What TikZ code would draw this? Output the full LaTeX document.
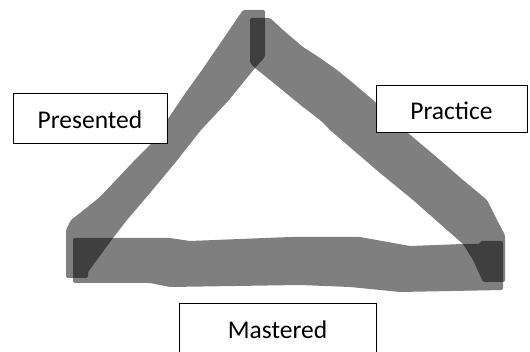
\documentclass[tikz,border=0pt]{standalone}
\usepackage{fontspec}
\setmainfont{Carlito}
\begin{document}
\begin{tikzpicture}[x=1pt,y=-1pt,
  marker/.style={fill=black, fill opacity=0.5, draw=none, rounded corners=1.5pt},
  label box/.style={draw=black, line width=0.8pt, fill=white, inner sep=0pt,
    font=\fontsize{25.5}{28}\selectfont, text height=21.4pt, text depth=0pt}]
\useasboundingbox (0,0) rectangle (530,352);
% left stroke
\path[marker] (243,10) -- (265,10) -- (265,57) -- (255,68) -- (229,100) -- (201,130)
  -- (175,163) -- (150,193) -- (127,220) -- (113,238) -- (88,272) -- (88,278)
  -- (66,278) -- (66,230) -- (71,220) -- (80,213) -- (100,197) -- (132,163)
  -- (152,143) -- (184,95) -- (202,70) -- cycle;
% right stroke
\path[marker] (250,18) -- (270,18) -- (283,30) -- (303,47) -- (320,58) -- (337,70)
  -- (353,83) -- (373,100) -- (408,133) -- (440,160) -- (463,180) -- (487,200)
  -- (497,220) -- (505,235) -- (505,282) -- (483,282) -- (473,260) -- (463,244)
  -- (447,230) -- (413,200) -- (380,173) -- (330,130) -- (320,120) -- (303,107)
  -- (270,80) -- (255,68) -- (250,63) -- cycle;
% bottom stroke
\path[marker] (73,238) -- (170,238) -- (190,241) -- (290,237) -- (360,237)
  -- (410,246) -- (463,244) -- (480,244) -- (480,241) -- (503,241) -- (503,290)
  -- (400,292) -- (350,287) -- (300,285) -- (170,287) -- (150,283) -- (73,283) -- cycle;
% labels
\node[label box, minimum width=154pt, minimum height=50pt] (presented) at (90,118) {Presented};
\node[label box, minimum width=151pt, minimum height=47pt] (practice) at (451.5,108.5) {Practice};
\node[label box, minimum width=197pt, minimum height=50pt] (mastered) at (277.5,328) {Mastered};
\end{tikzpicture}
\end{document}
